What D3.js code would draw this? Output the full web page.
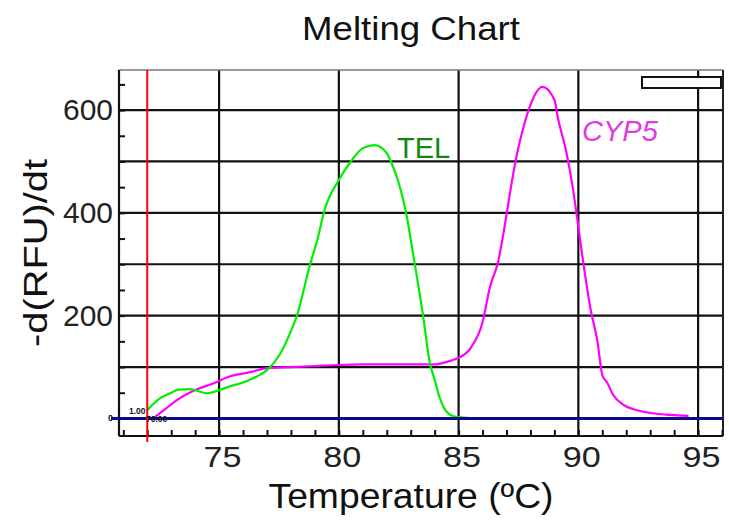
<!DOCTYPE html>
<html>
<head>
<meta charset="utf-8">
<script src="https://cdn.jsdelivr.net/npm/d3@7"></script>
<style>
  html, body { margin: 0; padding: 0; background: #fff; }
  svg { display: block; font-family: "Liberation Sans", Arial, sans-serif; }
</style>
</head>
<body>
<svg id="chart" width="729" height="530"></svg>
<script>
// ---- data ----
const telTemp = [72.0, 72.5, 73.0, 73.3, 73.8, 74.2, 74.5, 75.0, 75.5, 76.0, 76.5, 77.0, 77.5, 78.0, 78.25, 78.8, 79.1, 79.4, 80.0, 80.5, 81.0, 81.5, 82.0, 82.2, 82.5, 82.8, 83.1, 83.5, 83.8, 84.0, 84.2, 84.5, 84.9, 86.0, 88.0, 90.0, 92.0, 95.0];
const telVal  = [16, 38, 50, 56, 57, 52, 49, 55, 63, 70, 80, 94, 122, 170, 200, 300, 347, 405, 464, 500, 526, 532, 516, 497, 458, 402, 320, 205, 108, 75, 42, 13, 3, 0, 0, 0, 0, 0];

const cypTemp = [72.3, 72.8, 73.25, 73.8, 74.2, 74.75, 75.46, 76.3, 77.0, 78.0, 79.0, 80.0, 81.0, 82.0, 83.0, 84.0, 84.5, 84.9, 85.5, 86.0, 86.3, 86.65, 87.0, 87.2, 87.45, 87.7, 88.0, 88.5, 89.0, 89.15, 89.5, 89.75, 89.95, 90.2, 90.5, 90.8, 91.0, 91.2, 91.45, 91.9, 92.45, 93.1, 93.8, 94.6];
const cypVal  = [2, 20, 36, 51, 59, 68, 82, 90, 98, 100, 102, 104, 105, 105, 105, 105, 110, 116, 137, 187, 254, 305, 396, 454, 517, 565, 610, 645, 620, 584, 518, 454, 390, 305, 215, 149, 84, 70, 46, 26, 16, 10, 7, 5];

const xTickLabels = [75, 80, 85, 90, 95];
const xMinorTicks = [71, 72, 73, 74, 75, 76, 77, 78, 79, 80, 81, 82, 83, 84, 85, 86, 87, 88, 89, 90, 91, 92, 93, 94, 95, 96];
const yTickLabels = [200, 400, 600];
const yGridValues = [100, 200, 300, 400, 500, 600];
const yMinorTicks = [0, 50, 100, 150, 200, 250, 300, 350, 400, 450, 500, 550, 600, 650];
const markerTemp = 72;
const seriesNames = ["TEL", "CYP5"];

// ---- layout ----
const L = 119, R = 723, T = 70, B = 436;
const svg = d3.select("#chart");
const x = d3.scaleLinear().domain([70.82, 96.04]).range([L, R]);
const y = d3.scaleLinear().domain([-34.2, 678]).range([B, T]);

// title
svg.append("text").attr("x", 411).attr("y", 40).attr("text-anchor", "middle")
  .attr("font-size", 34).attr("fill", "#111")
  .attr("textLength", 218).attr("lengthAdjust", "spacingAndGlyphs").text("Melting Chart");

// gridlines
svg.append("g").selectAll("line").data(yGridValues).join("line")
  .attr("x1", L).attr("x2", R).attr("y1", d => y(d)).attr("y2", d => y(d))
  .attr("stroke", "#111").attr("stroke-width", 2.2);
svg.append("g").selectAll("line").data(xTickLabels).join("line")
  .attr("x1", d => x(d)).attr("x2", d => x(d)).attr("y1", T).attr("y2", B)
  .attr("stroke", "#111").attr("stroke-width", 2.2);

// frame
svg.append("line").attr("x1", L).attr("x2", R).attr("y1", T).attr("y2", T).attr("stroke", "#777").attr("stroke-width", 1.5);
svg.append("line").attr("x1", R).attr("x2", R).attr("y1", T).attr("y2", B).attr("stroke", "#222").attr("stroke-width", 2);

// minor ticks via axes
svg.append("g").attr("transform", `translate(${L},0)`)
  .call(d3.axisRight(y).tickValues(yMinorTicks).tickSize(6).tickFormat(""))
  .call(g => g.select(".domain").remove())
  .call(g => g.selectAll("line").attr("stroke", "#111").attr("stroke-width", 2));
svg.append("g").attr("transform", `translate(0,${B})`)
  .call(d3.axisTop(x).tickValues(xMinorTicks).tickSize(6).tickFormat(""))
  .call(g => g.select(".domain").remove())
  .call(g => g.selectAll("line").attr("stroke", "#111").attr("stroke-width", 2));

// axis lines
svg.append("line").attr("x1", L).attr("x2", L).attr("y1", T).attr("y2", B).attr("stroke", "#111").attr("stroke-width", 2.2);
svg.append("line").attr("x1", L).attr("x2", R).attr("y1", B).attr("y2", B).attr("stroke", "#111").attr("stroke-width", 2.2);

// tick labels
svg.append("g").attr("transform", `translate(${L},0)`)
  .call(d3.axisLeft(y).tickValues(yTickLabels).tickSize(0).tickPadding(6))
  .call(g => g.select(".domain").remove())
  .call(g => g.selectAll("text").attr("font-size", 30).attr("fill", "#222")
    .attr("font-family", "'Liberation Sans', Arial, sans-serif")
    .attr("textLength", 50).attr("lengthAdjust", "spacingAndGlyphs"));
svg.append("g").attr("transform", `translate(3,${B})`)
  .call(d3.axisBottom(x).tickValues(xTickLabels).tickSize(0).tickPadding(10))
  .call(g => g.select(".domain").remove())
  .call(g => g.selectAll("text").attr("font-size", 30).attr("fill", "#222")
    .attr("font-family", "'Liberation Sans', Arial, sans-serif")
    .attr("textLength", 38).attr("lengthAdjust", "spacingAndGlyphs"));

// axis titles
svg.append("text").attr("x", 411).attr("y", 508).attr("text-anchor", "middle")
  .attr("font-size", 35).attr("fill", "#111")
  .attr("textLength", 285).attr("lengthAdjust", "spacingAndGlyphs").text("Temperature (ºC)");
svg.append("text").attr("transform", "translate(47,253) rotate(-90)").attr("text-anchor", "middle")
  .attr("font-size", 33).attr("fill", "#111")
  .attr("textLength", 188).attr("lengthAdjust", "spacingAndGlyphs").text("-d(RFU)/dt");

// curves
const line = d3.line().x(d => x(d[0])).y(d => y(d[1])).curve(d3.curveMonotoneX);
const telData = telTemp.map((t, i) => [t, telVal[i]]);
const cypData = cypTemp.map((t, i) => [t, cypVal[i]]);
svg.append("path").datum(cypData).attr("d", line).attr("fill", "none")
  .attr("stroke", "#ff00ff").attr("stroke-width", 2.2).attr("stroke-linejoin", "round");
svg.append("path").datum(telData).attr("d", line).attr("fill", "none")
  .attr("stroke", "#00ee00").attr("stroke-width", 2.2).attr("stroke-linejoin", "round");

// zero baseline (drawn over the curves)
svg.append("line").attr("x1", 111).attr("x2", R).attr("y1", y(0)).attr("y2", y(0))
  .attr("stroke", "#0a0a8a").attr("stroke-width", 3);
svg.append("text").attr("x", 113).attr("y", y(0) + 3).attr("text-anchor", "end")
  .attr("font-size", 9).attr("font-weight", "bold").attr("fill", "#111").text("0");

// marker
svg.append("line").attr("x1", x(markerTemp)).attr("x2", x(markerTemp)).attr("y1", T).attr("y2", 442)
  .attr("stroke", "#ff0000").attr("stroke-width", 2);
svg.append("text").attr("x", 129).attr("y", 414).attr("font-size", 8.5).attr("font-weight", "bold").attr("fill", "#111").text("1.00");
svg.append("text").attr("x", 146).attr("y", 422).attr("font-size", 8.5).attr("font-weight", "bold").attr("fill", "#111").text("70.00");

// series labels
svg.append("text").attr("x", 397).attr("y", 158).attr("font-size", 29).attr("fill", "#0f8a0f").text(seriesNames[0]);
svg.append("text").attr("x", 582).attr("y", 141).attr("font-size", 29).attr("font-style", "italic").attr("fill", "#e03ce0").text(seriesNames[1]);

// legend box (empty)
svg.append("rect").attr("x", 642).attr("y", 77).attr("width", 79).attr("height", 11)
  .attr("fill", "#fff").attr("stroke", "#111").attr("stroke-width", 2);
</script>
</body>
</html>
